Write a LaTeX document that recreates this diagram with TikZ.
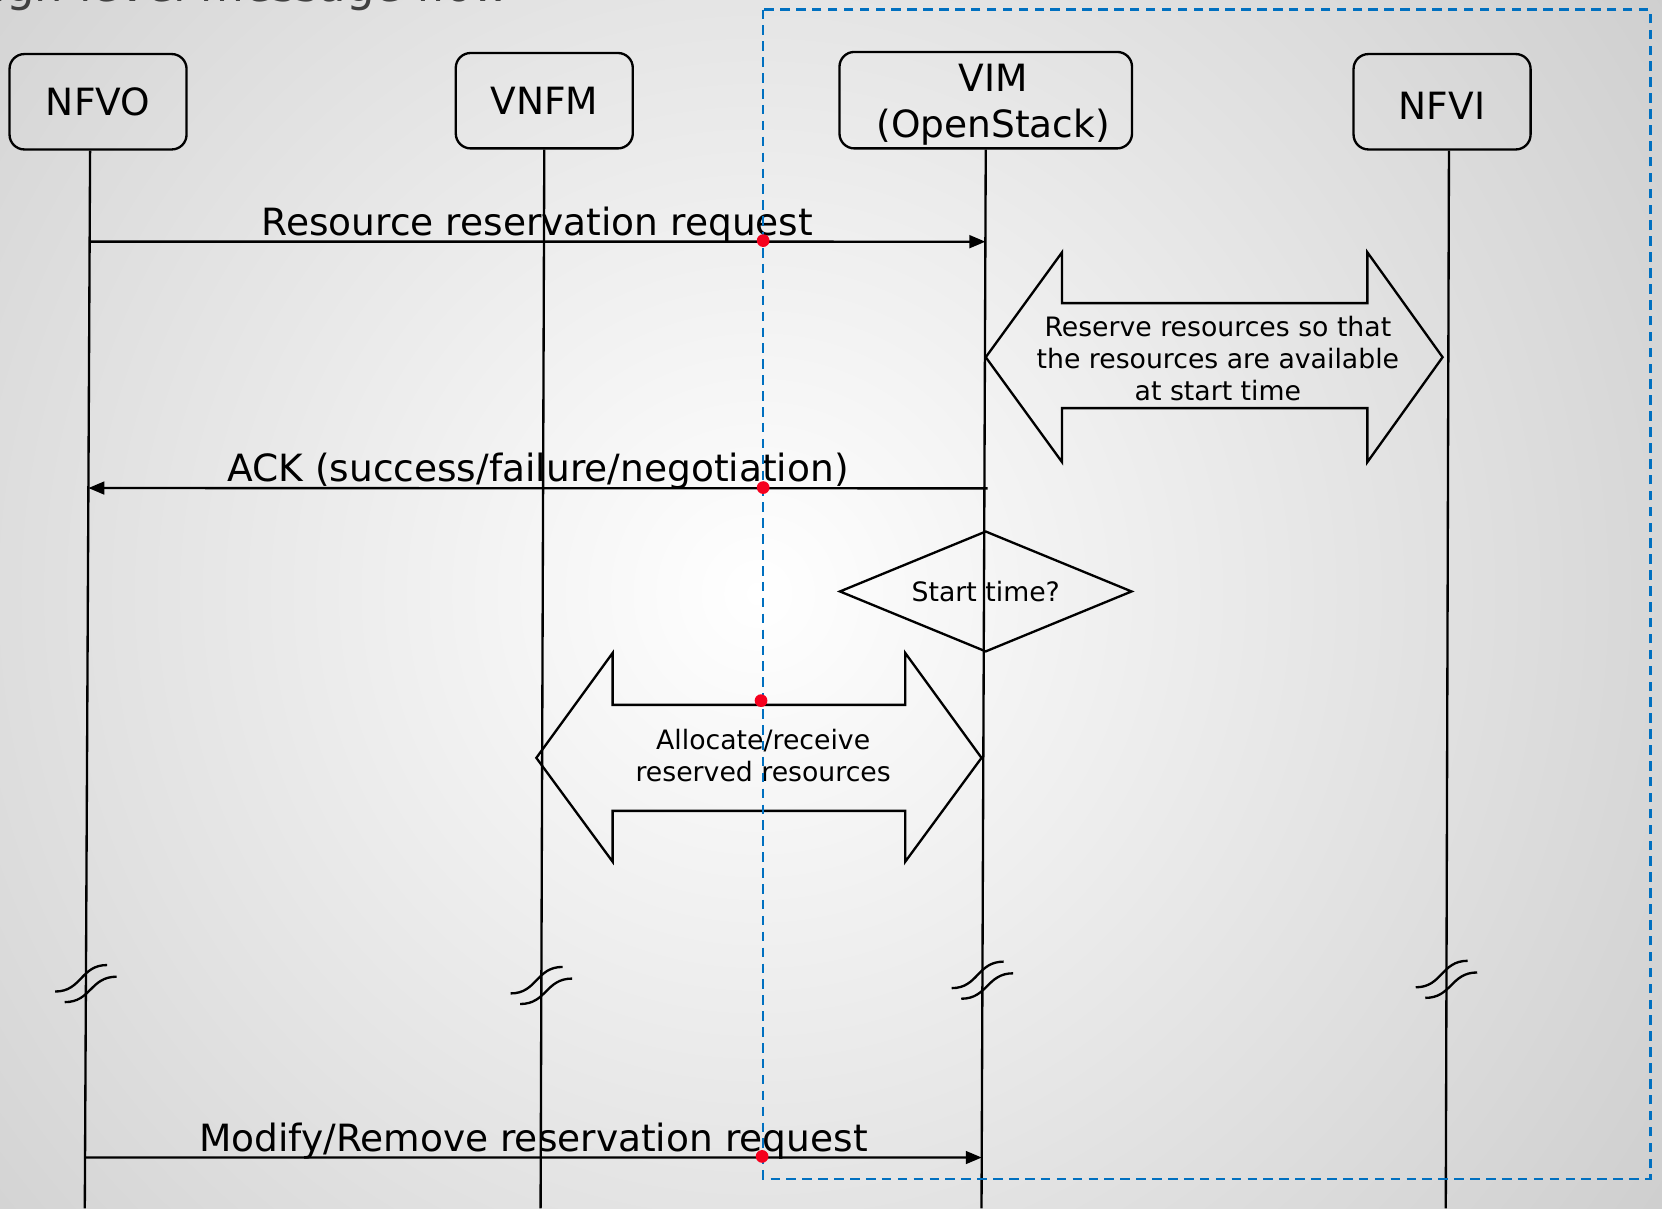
\documentclass[tikz,border=0pt]{standalone}
\usepackage{fontspec}
\setmainfont{DejaVu Sans}
\usetikzlibrary{arrows.meta,shapes.geometric,calc}

\definecolor{dashblue}{HTML}{0070C0}
\definecolor{dotred}{HTML}{F5001E}

\tikzset{
  entity/.style={draw, line width=1.1pt, rounded corners=7pt, minimum width=83.5pt,
    minimum height=45pt, inner sep=0pt, align=center, font=\fontsize{17.7}{21.5}\selectfont},
  msg/.style={line width=1.1pt, -{Triangle[length=7.5pt,width=6pt]}},
  msglabel/.style={anchor=base, yshift=3pt, inner sep=0pt, font=\fontsize{17.7}{21.5}\selectfont},
  smalltext/.style={inner sep=0pt, align=center, font=\fontsize{12.6}{15}\selectfont},
  bigarrow/.style={draw, line width=1.1pt, line join=miter},
  lifebreak/.pic={
    \draw[line width=1.1pt] (-29,7) .. controls (-4,7) and (-5,-18) .. (20,-18);
    \draw[line width=1.1pt] (-20,17) .. controls (5,17) and (4,-7) .. (29,-7);
  }
}

\begin{document}
\begin{tikzpicture}[x=0.5pt, y=-0.5pt]
            \useasboundingbox (0,0) rectangle (1568,1140);
            \begin{scope}
              \clip (0,0) rectangle (1568,1140);
              \fill[black!22] (0,0) rectangle (1568,1140);
              \shade[inner color=white, outer color=black!22] (715,560) circle[radius=600pt];
            \end{scope}

            \node[anchor=base east, inner sep=0pt, text=black!75, font=\fontsize{21.2}{25}\selectfont] (title) at (481,1.5) {High-level message flow};

            \node[entity] (nfvo) at (92.5,96) {NFVO};
            \node[entity] (vnfm) at (513.5,95) {VNFM};
            \node[entity, minimum width=138pt, minimum height=45.5pt] (vim) at (930,94.5) {\rule{0pt}{17pt}\hspace*{7pt}VIM\\\hspace*{7pt}(OpenStack)};
            \node[entity] (nfvi) at (1360.5,96) {\rule{0pt}{17pt}NFVI};

            \coordinate (nfvoTop) at ([xshift=-3.75pt]nfvo.south);
            \coordinate (vnfmTop) at (vnfm.south);
            \coordinate (vimTop) at (vim.south);
            \coordinate (nfviTop) at ([xshift=3.25pt]nfvi.south);
            \coordinate (nfvoEnd) at (80,1140);
            \coordinate (vnfmEnd) at (510,1140);
            \coordinate (vimEnd) at (926,1140);
            \coordinate (nfviEnd) at (1364,1140);

            \draw[line width=1.1pt] (nfvoTop) -- (nfvoEnd);
            \draw[line width=1.1pt] (vnfmTop) -- (vnfmEnd);
            \draw[line width=1.1pt] (vimTop) -- (vimEnd);
            \draw[line width=1.1pt] (nfviTop) -- (nfviEnd);

            \draw[msg] ($(nfvoTop)!0.086!(nfvoEnd)$) -- node[msglabel] {Resource reservation request} ($(vimTop)!0.087!(vimEnd)$);

            \draw[bigarrow] (930,337) -- (1002,238) -- (1002,286) -- (1290,286) -- (1290,238) -- (1361,337)
              -- (1290,436) -- (1290,385) -- (1002,385) -- (1002,436) -- cycle;
            \node[smalltext] (reserve) at (1149,338) {Reserve resources so that\\the resources are available\\at start time};

            \draw[msg] ([xshift=1.5pt]$(vimTop)!0.32!(vimEnd)$) -- node[msglabel] {ACK (success/failure/negotiation)} ($(nfvoTop)!0.319!(nfvoEnd)$);

            \node[draw, diamond, aspect=2.42, minimum width=138pt, minimum height=57pt, line width=1.1pt,
              smalltext] (starttime) at (930,558) {Start time?};

            \draw[bigarrow] (506,715) -- (578,616) -- (578,665) -- (854,665) -- (854,616) -- (926,715)
              -- (854,813) -- (854,765) -- (578,765) -- (578,813) -- cycle;
            \node[smalltext] (allocate) at (720,713) {Allocate/receive\\reserved resources};

            \pic at ($(nfvoTop)!0.788!(nfvoEnd)$) {lifebreak};
            \pic at ($(vnfmTop)!0.79!(vnfmEnd)$) {lifebreak};
            \pic at ($(vimTop)!0.785!(vimEnd)$) {lifebreak};
            \pic at ($(nfviTop)!0.784!(nfviEnd)$) {lifebreak};

            \draw[msg] ($(nfvoTop)!0.952!(nfvoEnd)$) -- node[msglabel] {Modify/Remove reservation request} ($(vimTop)!0.952!(vimEnd)$);

            \draw[dashblue, line width=1.1pt, dash pattern=on 4.5pt off 3pt] (720,9) rectangle (1557,1112);

            \foreach \px/\py in {720/227, 720/460, 718/661, 719/1091}
              \fill[dotred] (\px,\py) circle[radius=3pt];
        \end{tikzpicture}
\end{document}
